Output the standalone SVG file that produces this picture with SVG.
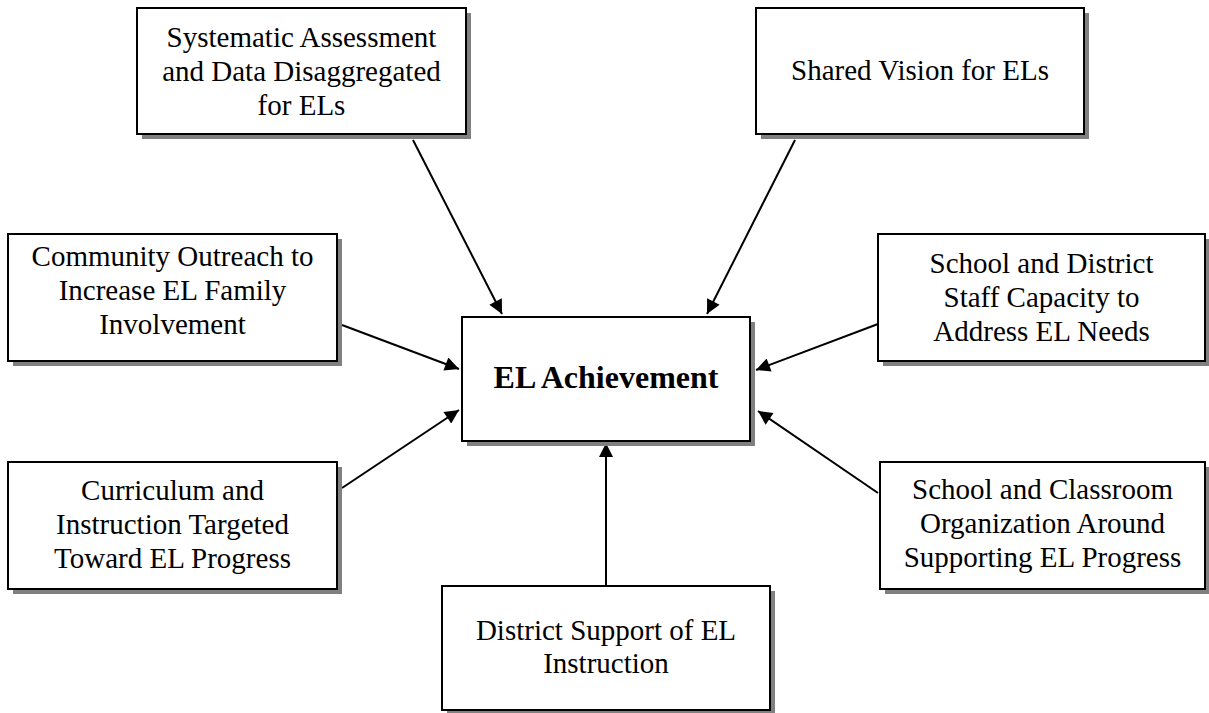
<svg xmlns="http://www.w3.org/2000/svg" width="1209" height="713" viewBox="0 0 1209 713">
<style>
.sh{fill:#808080;stroke:none}
.bx{fill:#fff;stroke:#000;stroke-width:2}
.t{font-family:"Liberation Serif","Times New Roman",serif;font-size:29px;fill:#000;text-anchor:middle}
.tb{font-family:"Liberation Serif","Times New Roman",serif;font-size:32px;font-weight:bold;fill:#000;text-anchor:middle}
.c{stroke:#000;stroke-width:2;fill:none;marker-end:url(#ah)}
</style>
<defs>
<marker id="ah" viewBox="0 0 10 10" refX="10" refY="5" markerWidth="8.5" markerHeight="7" markerUnits="strokeWidth" orient="auto">
<path d="M0,0 L10,5 L0,10 z" fill="#000"/>
</marker>
</defs>
<rect width="1209" height="713" fill="#fff"/>
<g id="connectors">
<line class="c" x1="413" y1="140" x2="502" y2="314"/>
<line class="c" x1="795" y1="140" x2="707" y2="314"/>
<line class="c" x1="342" y1="325" x2="459" y2="369"/>
<line class="c" x1="342" y1="488" x2="459" y2="410"/>
<line class="c" x1="878" y1="324" x2="756" y2="370"/>
<line class="c" x1="878" y1="493" x2="758" y2="411"/>
<line class="c" x1="606" y1="586" x2="606" y2="443"/>
</g>
<g id="n1">
<rect class="sh" x="142" y="13" width="329" height="126"/>
<rect class="bx" x="137" y="8" width="329" height="126"/>
<text class="t" x="301.5" y="47">Systematic Assessment</text>
<text class="t" x="301.5" y="81">and Data Disaggregated</text>
<text class="t" x="301.5" y="115">for ELs</text>
</g>
<g id="n2">
<rect class="sh" x="761" y="13" width="328" height="126"/>
<rect class="bx" x="756" y="8" width="328" height="126"/>
<text class="t" x="920" y="80">Shared Vision for ELs</text>
</g>
<g id="n3">
<rect class="sh" x="13" y="239" width="329" height="127"/>
<rect class="bx" x="8" y="234" width="329" height="127"/>
<text class="t" x="172.5" y="266">Community Outreach to</text>
<text class="t" x="172.5" y="300">Increase EL Family</text>
<text class="t" x="172.5" y="334">Involvement</text>
</g>
<g id="n4">
<rect class="sh" x="467" y="322" width="288" height="124"/>
<rect class="bx" x="462" y="317" width="288" height="124"/>
<text class="tb" x="606" y="388">EL Achievement</text>
</g>
<g id="n5">
<rect class="sh" x="883" y="239" width="327" height="127"/>
<rect class="bx" x="878" y="234" width="327" height="127"/>
<text class="t" x="1041.5" y="273">School and District</text>
<text class="t" x="1041.5" y="307">Staff Capacity to</text>
<text class="t" x="1041.5" y="341">Address EL Needs</text>
</g>
<g id="n6">
<rect class="sh" x="13" y="467" width="329" height="127"/>
<rect class="bx" x="8" y="462" width="329" height="127"/>
<text class="t" x="172.5" y="500">Curriculum and</text>
<text class="t" x="172.5" y="534">Instruction Targeted</text>
<text class="t" x="172.5" y="568">Toward EL Progress</text>
</g>
<g id="n7">
<rect class="sh" x="885" y="467" width="325" height="127"/>
<rect class="bx" x="880" y="462" width="325" height="127"/>
<text class="t" x="1042.5" y="499">School and Classroom</text>
<text class="t" x="1042.5" y="533">Organization Around</text>
<text class="t" x="1042.5" y="567">Supporting EL Progress</text>
</g>
<g id="n8">
<rect class="sh" x="447" y="591" width="328" height="124"/>
<rect class="bx" x="442" y="586" width="328" height="124"/>
<text class="t" x="606" y="640">District Support of EL</text>
<text class="t" x="606" y="673">Instruction</text>
</g>
</svg>
